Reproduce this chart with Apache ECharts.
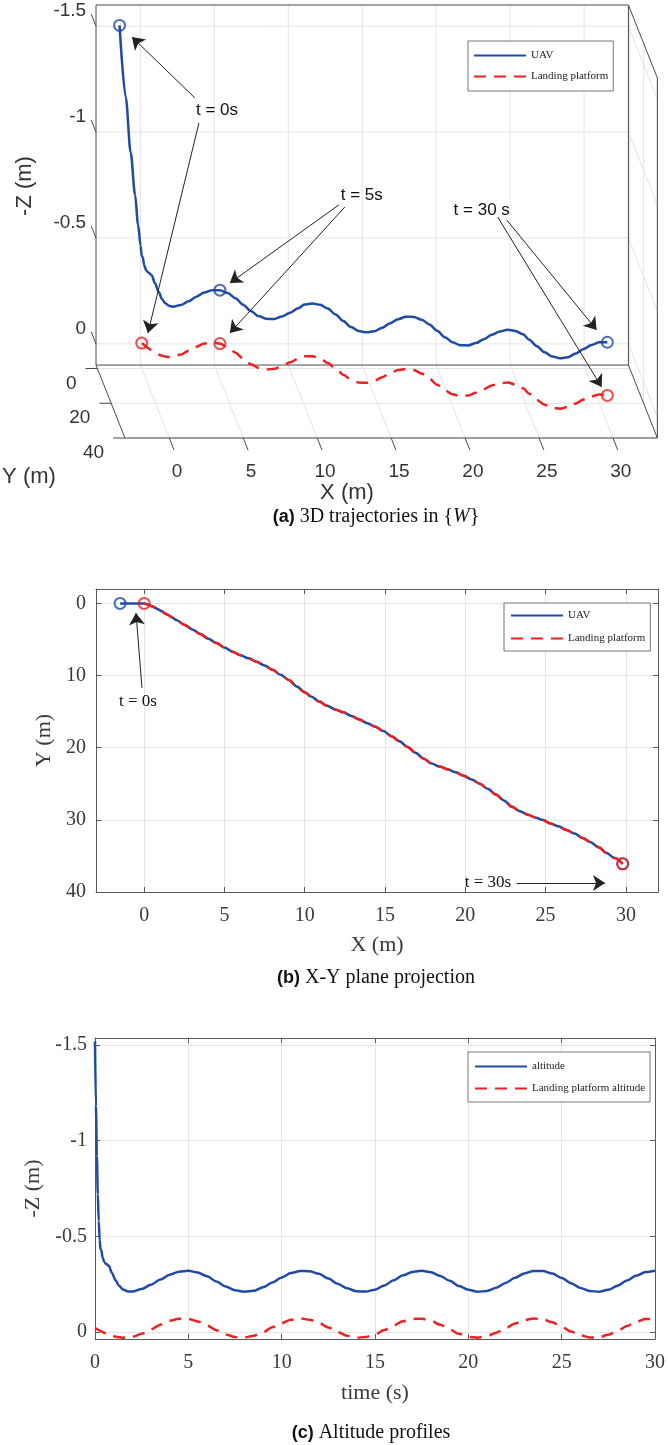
<!DOCTYPE html>
<html>
<head>
<meta charset="utf-8">
<script src="https://cdn.jsdelivr.net/npm/echarts@6/dist/echarts.min.js"></script>
<style>
html, body { margin: 0; padding: 0; background: #fff; }
#main { width: 668px; height: 1445px; }
</style>
</head>
<body>
<div id="main"></div>
<script>
// sample times (s)
const time = [0, 0.05, 0.1, 0.15, 0.2, 0.25, 0.3, 0.35, 0.4, 0.5, 0.6, 0.75, 0.9, 1.1, 1.3, 1.5, 1.75, 2,
    2.5, 3, 3.5, 4, 4.5, 5, 5.5, 6, 6.5, 7, 7.5, 8, 8.5, 9, 9.5, 10, 10.5, 11, 11.5, 12, 12.5, 13, 13.5, 14,
    14.5, 15, 15.5, 16, 16.5, 17, 17.5, 18, 18.5, 19, 19.5, 20, 20.5, 21, 21.5, 22, 22.5, 23, 23.5, 24,
    24.5, 25, 25.5, 26, 26.5, 27, 27.5, 28, 28.5, 29, 29.5, 30];
// -Z of the UAV (m)
const uavAlt = [-1.52, -1.18, -0.92, -0.72, -0.58, -0.48, -0.43, -0.425, -0.39, -0.365, -0.355, -0.345, -0.31, -0.27, -0.24, -0.222, -0.212, -0.211,
    -0.224, -0.247, -0.274, -0.299, -0.315, -0.320, -0.311, -0.291, -0.264, -0.238, -0.218, -0.210, -0.215, -0.233, -0.258, -0.285,
    -0.308, -0.319, -0.317, -0.304, -0.279, -0.252, -0.228, -0.213, -0.211, -0.221, -0.243, -0.270, -0.296, -0.314, -0.320, -0.312,
    -0.293, -0.267, -0.240, -0.220, -0.210, -0.214, -0.231, -0.256, -0.283, -0.306, -0.319, -0.318, -0.305, -0.282, -0.255, -0.230,
    -0.214, -0.210, -0.220, -0.242, -0.269, -0.295, -0.313, -0.320];
// -Z of the landing platform (m)
const padAlt = [-0.02, -0.018, -0.015, -0.013, -0.01, -0.008, -0.005, -0.003, 0.0, 0.004, 0.008, 0.014, 0.019, 0.025, 0.028, 0.03, 0.029, 0.025,
    0.010, -0.013, -0.038, -0.058, -0.069, -0.068, -0.055, -0.034, -0.009, 0.013, 0.027, 0.029, 0.020, 0.001, -0.024, -0.047,
    -0.064, -0.070, -0.064, -0.047, -0.023, 0.001, 0.020, 0.030, 0.027, 0.013, -0.010, -0.034, -0.056, -0.068, -0.069, -0.058,
    -0.037, -0.012, 0.010, 0.026, 0.030, 0.022, 0.004, -0.020, -0.044, -0.062, -0.070, -0.065, -0.050, -0.027, -0.002, 0.018,
    0.029, 0.028, 0.015, -0.006, -0.031, -0.053, -0.067, -0.069];
// X-Y track of the platform (m)
const padX = [0, 0.05, 0.1, 0.15, 0.2, 0.25, 0.3, 0.35, 0.4, 0.5, 0.6, 0.75, 0.9, 1.1, 1.3, 1.5, 1.75, 2,
    2.5, 3, 3.5, 4, 4.5, 5, 5.5, 6, 6.5, 7, 7.5, 8, 8.5, 9, 9.5, 10, 10.4, 10.9, 11.4, 11.9, 12.4, 12.9, 13.4, 13.9,
    14.4, 14.9, 15.4, 15.9, 16.4, 16.9, 17.4, 17.9, 18.4, 18.9, 19.4, 19.9, 20.4, 20.9, 21.4, 21.9, 22.4, 22.9, 23.4, 23.9,
    24.4, 24.8, 25.3, 25.8, 26.3, 26.8, 27.3, 27.8, 28.3, 28.8, 29.3, 29.8];
const padY = [0, 0.03, 0.07, 0.11, 0.15, 0.2, 0.24, 0.28, 0.32, 0.4, 0.5, 0.7, 0.88, 1.13, 1.38, 1.6, 1.95, 2.3,
    2.95, 3.6, 4.25, 4.9, 5.5, 6.1, 6.7, 7.2, 7.6, 8.1, 8.6, 9.2, 9.9, 10.6, 11.5, 12.3, 12.9, 13.6, 14.2, 14.7, 15.1, 15.6, 16.1, 16.6,
    17.1, 17.7, 18.4, 19.1, 19.9, 20.7, 21.5, 22.2, 22.6, 23.0, 23.4, 23.9, 24.4, 25.0, 25.7, 26.5, 27.3, 28.2, 28.8, 29.3,
    29.7, 30.0, 30.5, 30.9, 31.4, 31.9, 32.5, 33.1, 33.8, 34.6, 35.3, 36.1];
// X-Y track of the UAV (m)
const uavX = [-1.5, -1.08, -0.75, -0.45, -0.25, -0.08, 0, 0.08, 0.15, 0.3, 0.45, 0.65, 0.85, 1.1, 1.3, 1.5, 1.75, 2,
    2.5, 3, 3.5, 4, 4.5, 5, 5.5, 6, 6.5, 7, 7.5, 8, 8.5, 9, 9.5, 10, 10.4, 10.9, 11.4, 11.9, 12.4, 12.9, 13.4, 13.9,
    14.4, 14.9, 15.4, 15.9, 16.4, 16.9, 17.4, 17.9, 18.4, 18.9, 19.4, 19.9, 20.4, 20.9, 21.4, 21.9, 22.4, 22.9, 23.4, 23.9,
    24.4, 24.8, 25.3, 25.8, 26.3, 26.8, 27.3, 27.8, 28.3, 28.8, 29.3, 29.8];
const uavY = [0, 0, 0, 0, 0, 0, 0, 0.03, 0.08, 0.2, 0.35, 0.55, 0.8, 1.1, 1.38, 1.6, 1.95, 2.3,
    2.95, 3.6, 4.25, 4.9, 5.5, 6.1, 6.7, 7.2, 7.6, 8.1, 8.6, 9.2, 9.9, 10.6, 11.5, 12.3, 12.9, 13.6, 14.2, 14.7, 15.1, 15.6, 16.1, 16.6,
    17.1, 17.7, 18.4, 19.1, 19.9, 20.7, 21.5, 22.2, 22.6, 23.0, 23.4, 23.9, 24.4, 25.0, 25.7, 26.5, 27.3, 28.2, 28.8, 29.3,
    29.7, 30.0, 30.5, 30.9, 31.4, 31.9, 32.5, 33.1, 33.8, 34.6, 35.3, 36.1];

// tick labels
const xTicks = [0, 5, 10, 15, 20, 25, 30];
const yTicks3d = [0, 20, 40];
const zTicks = [-1.5, -1, -0.5, 0];
const yTicksXY = [0, 10, 20, 30, 40];
const tTicks = [0, 5, 10, 15, 20, 25, 30];

const SANS = '"Liberation Sans", Arial, sans-serif';
const SERIF = '"Liberation Serif", "Times New Roman", serif';
const BLUE = '#1f4aa6', RED = '#ee2020';
const AXIS = '#5a5a5a', GRIDC = '#e4e4e4', TXT = '#3a3a3a';

// oblique projection used for the 3D panel: depth (Y) shifts points right and down
const KX = 0.0466, KV = 0.0082;
const XL = [-3, 33], YL = [-2, 40], VL = [-1.6, 0.1];
function proj(x, y, v) {
    return [x + KX * (y - YL[0]), v + KV * (y - YL[0])];
}

const i5 = time.indexOf(5), iEnd = time.length - 1;
const uav3d = time.map((t, i) => proj(uavX[i], uavY[i], uavAlt[i]));
const pad3d = time.map((t, i) => proj(padX[i], padY[i], padAlt[i]));

// box, grid and ticks of the 3D panel
let segs = [];
xTicks.forEach(function (x) {
    segs.push([[x, YL[0], VL[0]], [x, YL[0], VL[1]], 0]);
    segs.push([[x, YL[0], VL[1]], [x, YL[1], VL[1]], 0]);
    segs.push([[x, YL[1], VL[1]], [x, YL[1] + 7, VL[1]], 1]);
});
zTicks.forEach(function (v) {
    segs.push([[XL[0], YL[0], v], [XL[1], YL[0], v], 0]);
    segs.push([[XL[1], YL[0], v], [XL[1], YL[1], v], 0]);
    segs.push([[XL[0], YL[0], v], [XL[0], YL[0] - 7, v], 1]);
});
yTicks3d.forEach(function (y) {
    segs.push([[XL[0], y, VL[1]], [XL[1], y, VL[1]], 0]);
    segs.push([[XL[1], y, VL[0]], [XL[1], y, VL[1]], 0]);
    segs.push([[XL[0], y, VL[1]], [XL[0] - 0.8, y, VL[1]], 1]);
});
[
    [[XL[0], YL[0], VL[0]], [XL[1], YL[0], VL[0]]],
    [[XL[0], YL[0], VL[1]], [XL[1], YL[0], VL[1]]],
    [[XL[0], YL[0], VL[0]], [XL[0], YL[0], VL[1]]],
    [[XL[1], YL[0], VL[0]], [XL[1], YL[0], VL[1]]],
    [[XL[0], YL[0], VL[1]], [XL[0], YL[1], VL[1]]],
    [[XL[0], YL[1], VL[1]], [XL[1], YL[1], VL[1]]],
    [[XL[1], YL[0], VL[1]], [XL[1], YL[1], VL[1]]],
    [[XL[1], YL[0], VL[0]], [XL[1], YL[1], VL[0]]],
    [[XL[1], YL[1], VL[0]], [XL[1], YL[1], VL[1]]]
].forEach(function (e) { segs.push([e[0], e[1], 1]); });

let labels3d = [];
zTicks.forEach(v => labels3d.push({ t: String(v), p: [XL[0], YL[0] - 7, v], dx: -5, dy: -3, align: 'right' }));
yTicks3d.forEach(y => labels3d.push({ t: String(y), p: [XL[0] - 0.8, y, VL[1]], dx: -9, dy: 15, align: 'right' }));
xTicks.forEach(x => labels3d.push({ t: String(x), p: [x, YL[1] + 7, VL[1]], dx: 3, dy: 22, align: 'center' }));

function ring(color) {
    return { color: 'rgba(0,0,0,0)', borderColor: color, borderWidth: 2 };
}
function arrows(list) {
    return {
        silent: true,
        symbol: ['none', 'arrow'],
        symbolSize: 12,
        label: { show: false },
        lineStyle: { color: '#222', width: 1, type: 'solid' },
        data: list.map(a => [{ coord: a[0] }, { coord: a[1] }])
    };
}
function notes(list, family) {
    return {
        silent: true,
        symbol: 'circle',
        symbolSize: 1,
        itemStyle: { color: 'rgba(0,0,0,0)' },
        label: { show: true, position: 'inside', formatter: '{b}', color: '#111', fontSize: 17, fontFamily: family },
        data: list.map(n => ({ name: n[0], coord: n[1] }))
    };
}
function legendBox(left, top, names, gap, pad) {
    return {
        left: left, top: top, orient: 'vertical', align: 'left', data: names,
        itemWidth: 52, itemHeight: 12, itemGap: gap, padding: pad,
        borderColor: '#777', borderWidth: 1, backgroundColor: '#fff', selectedMode: false,
        itemStyle: { color: 'rgba(0,0,0,0)', borderWidth: 0, opacity: 0 },
        textStyle: { fontFamily: SERIF, fontSize: 11, color: '#222' }
    };
}
function boxAxis(grid, pos, min, max, ticks, extra) {
    return Object.assign({
        type: 'value', gridIndex: grid, position: pos, min: min, max: max,
        axisLine: { show: true, onZero: false, lineStyle: { color: AXIS, width: 1 } },
        axisTick: { show: true, inside: true, length: 5, customValues: ticks, lineStyle: { color: AXIS } },
        axisLabel: { show: false },
        splitLine: { show: false }
    }, extra || {});
}
function mainAxis(grid, pos, min, max, ticks, name, gap, margin, extra) {
    return boxAxis(grid, pos, min, max, ticks, Object.assign({
        axisLabel: { show: true, customValues: ticks, margin: margin, fontSize: 20, fontFamily: SERIF, color: TXT },
        splitLine: { show: true, lineStyle: { color: GRIDC, width: 1 } },
        name: name, nameLocation: 'middle', nameGap: gap,
        nameTextStyle: { fontSize: 22, fontFamily: SERIF, color: TXT }
    }, extra || {}));
}

const chart = echarts.init(document.getElementById('main'), null, { renderer: 'canvas' });
const option = {
    animation: false,
    backgroundColor: '#fff',
    grid: [
        { left: 96, top: 5, width: 562, height: 433 },
        { left: 96, top: 589, width: 562, height: 303 },
        { left: 95, top: 1038, width: 563, height: 301 }
    ],
    xAxis: [
        { type: 'value', gridIndex: 0, min: XL[0], max: 35, show: false },
        mainAxis(1, 'bottom', -3, 32, xTicks, 'X (m)', 42, 14),
        boxAxis(1, 'top', -3, 32, xTicks),
        mainAxis(2, 'bottom', 0, 30, tTicks, 'time (s)', 43, 14),
        boxAxis(2, 'top', 0, 30, tTicks)
    ],
    yAxis: [
        { type: 'value', gridIndex: 0, min: VL[0], max: VL[1] + KV * (YL[1] - YL[0]), inverse: true, show: false },
        mainAxis(1, 'left', -2, 40, yTicksXY, 'Y (m)', 38, 10, { inverse: true }),
        boxAxis(1, 'right', -2, 40, yTicksXY, { inverse: true }),
        mainAxis(2, 'left', -1.537, 0.037, zTicks, '-Z (m)', 51, 8, { inverse: true }),
        boxAxis(2, 'right', -1.537, 0.037, zTicks, { inverse: true })
    ],
    legend: [
        legendBox(468, 41, ['UAV', 'Landing platform'], 10, [9, 5, 9, 5]),
        legendBox(504, 603, ['UAV', 'Landing platform'], 12, [7, 5, 7, 6]),
        legendBox(468, 1052, ['altitude', 'Landing platform altitude'], 11, [9, 5, 8, 6])
    ],
    series: [
        // (a) frame
        {
            type: 'custom', xAxisIndex: 0, yAxisIndex: 0, silent: true, z: 1,
            data: segs.map(() => [0, 0]),
            renderItem: function (params, api) {
                const s = segs[params.dataIndex];
                const a = api.coord(proj(s[0][0], s[0][1], s[0][2]));
                const b = api.coord(proj(s[1][0], s[1][1], s[1][2]));
                return {
                    type: 'line', z2: s[2] ? 2 : 1,
                    shape: { x1: a[0], y1: a[1], x2: b[0], y2: b[1] },
                    style: { stroke: s[2] ? '#4a4a4a' : GRIDC, lineWidth: 1 }
                };
            }
        },
        {
            type: 'custom', xAxisIndex: 0, yAxisIndex: 0, silent: true, z: 1,
            data: labels3d.map(() => [0, 0]),
            renderItem: function (params, api) {
                const L = labels3d[params.dataIndex];
                const c = api.coord(proj(L.p[0], L.p[1], L.p[2]));
                return {
                    type: 'text', x: c[0] + L.dx, y: c[1] + L.dy,
                    style: { text: L.t, align: L.align, verticalAlign: 'middle', fontSize: 19, fontFamily: SANS, fill: '#333' }
                };
            }
        },
        {
            name: 'UAV', type: 'line', xAxisIndex: 0, yAxisIndex: 0, symbol: 'none', z: 3,
            smooth: 0.3, smoothMonotone: 'x',
            lineStyle: { color: BLUE, width: 2.5 }, itemStyle: { color: BLUE },
            data: uav3d
        },
        {
            name: 'Landing platform', type: 'line', xAxisIndex: 0, yAxisIndex: 0, symbol: 'none', z: 3,
            smooth: 0.3, smoothMonotone: 'x',
            lineStyle: { color: RED, width: 2.5, type: [12, 8] }, itemStyle: { color: RED },
            data: pad3d
        },
        {
            type: 'scatter', xAxisIndex: 0, yAxisIndex: 0, symbolSize: 11, z: 4, silent: true,
            itemStyle: ring(BLUE),
            data: [uav3d[0], uav3d[i5], uav3d[iEnd]],
            markLine: arrows([
                [[3.69, -1.161], [-0.57, -1.449]],
                [[3.96, -1.043], [0.51, -0.051]],
                [[13.42, -0.656], [6.05, -0.287]],
                [[13.82, -0.646], [6.05, -0.051]],
                [[24.77, -0.585], [30.85, -0.066]],
                [[24.16, -0.599], [31.19, 0.204]]
            ]),
            markPoint: notes([
                ['t = 0s', [5.18, -1.104]],
                ['t = 5s', [14.97, -0.703]],
                ['t = 30 s', [23.08, -0.632]]
            ], SANS)
        },
        {
            type: 'scatter', xAxisIndex: 0, yAxisIndex: 0, symbolSize: 11, z: 4, silent: true,
            itemStyle: ring(RED),
            data: [pad3d[0], pad3d[i5], pad3d[iEnd]]
        },
        // (b) X-Y projection
        {
            name: 'UAV', type: 'line', xAxisIndex: 1, yAxisIndex: 1, symbol: 'none', z: 3,
            smooth: 0.3, smoothMonotone: 'x',
            lineStyle: { color: BLUE, width: 2.5 }, itemStyle: { color: BLUE },
            data: time.map((t, i) => [uavX[i], uavY[i]])
        },
        {
            name: 'Landing platform', type: 'line', xAxisIndex: 1, yAxisIndex: 1, symbol: 'none', z: 3,
            smooth: 0.3, smoothMonotone: 'x',
            lineStyle: { color: RED, width: 2.5, type: [12, 8] }, itemStyle: { color: RED },
            data: time.map((t, i) => [padX[i], padY[i]])
        },
        {
            type: 'scatter', xAxisIndex: 1, yAxisIndex: 1, symbolSize: 11, z: 4, silent: true,
            itemStyle: ring(BLUE),
            data: [[uavX[0], uavY[0]], [uavX[iEnd], uavY[iEnd]]]
        },
        {
            type: 'scatter', xAxisIndex: 1, yAxisIndex: 1, symbolSize: 11, z: 4, silent: true,
            itemStyle: ring(RED),
            data: [[padX[0], padY[0]], [padX[iEnd], padY[iEnd]]],
            markLine: arrows([
                [[-0.136, 11.72], [-0.51, 1.33]],
                [[23.2, 38.75], [28.7, 38.75]]
            ]),
            markPoint: notes([
                ['t = 0s', [-0.385, 13.66]],
                ['t = 30s', [21.41, 38.75]]
            ], SERIF)
        },
        // (c) altitude
        {
            name: 'altitude', type: 'line', xAxisIndex: 3, yAxisIndex: 3, symbol: 'none', z: 3,
            smooth: 0.3, smoothMonotone: 'x',
            lineStyle: { color: BLUE, width: 2.5 }, itemStyle: { color: BLUE },
            data: time.map((t, i) => [t, uavAlt[i]])
        },
        {
            name: 'Landing platform altitude', type: 'line', xAxisIndex: 3, yAxisIndex: 3, symbol: 'none', z: 3,
            smooth: 0.3, smoothMonotone: 'x',
            lineStyle: { color: RED, width: 2.5, type: [12, 8] }, itemStyle: { color: RED },
            data: time.map((t, i) => [t, padAlt[i]])
        }
    ],
    graphic: [
        { type: 'text', x: 25, y: 186, rotation: Math.PI / 2, silent: true,
          style: { text: '-Z (m)', align: 'center', verticalAlign: 'middle', fontSize: 22, fontFamily: SANS, fill: '#333' } },
        { type: 'text', x: 29, y: 477, silent: true,
          style: { text: 'Y (m)', align: 'center', verticalAlign: 'middle', fontSize: 22, fontFamily: SANS, fill: '#333' } },
        { type: 'text', x: 347, y: 493, silent: true,
          style: { text: 'X (m)', align: 'center', verticalAlign: 'middle', fontSize: 22, fontFamily: SANS, fill: '#333' } },
        { type: 'text', x: 376, y: 517, silent: true,
          style: { text: '{b|(a)} 3D trajectories in {{i|W}}', align: 'center', verticalAlign: 'middle',
                   fontSize: 20, fontFamily: SERIF, fill: '#111',
                   rich: { b: { fontSize: 18, fontFamily: SANS, fontWeight: 'bold', fill: '#111' },
                           i: { fontSize: 20, fontFamily: SERIF, fontStyle: 'italic', fill: '#111' } } } },
        { type: 'text', x: 376, y: 978, silent: true,
          style: { text: '{b|(b)} X-Y plane projection', align: 'center', verticalAlign: 'middle',
                   fontSize: 20, fontFamily: SERIF, fill: '#111',
                   rich: { b: { fontSize: 18, fontFamily: SANS, fontWeight: 'bold', fill: '#111' } } } },
        { type: 'text', x: 371, y: 1433, silent: true,
          style: { text: '{b|(c)} Altitude profiles', align: 'center', verticalAlign: 'middle',
                   fontSize: 20, fontFamily: SERIF, fill: '#111',
                   rich: { b: { fontSize: 18, fontFamily: SANS, fontWeight: 'bold', fill: '#111' } } } }
    ]
};
chart.setOption(option);
</script>
</body>
</html>
